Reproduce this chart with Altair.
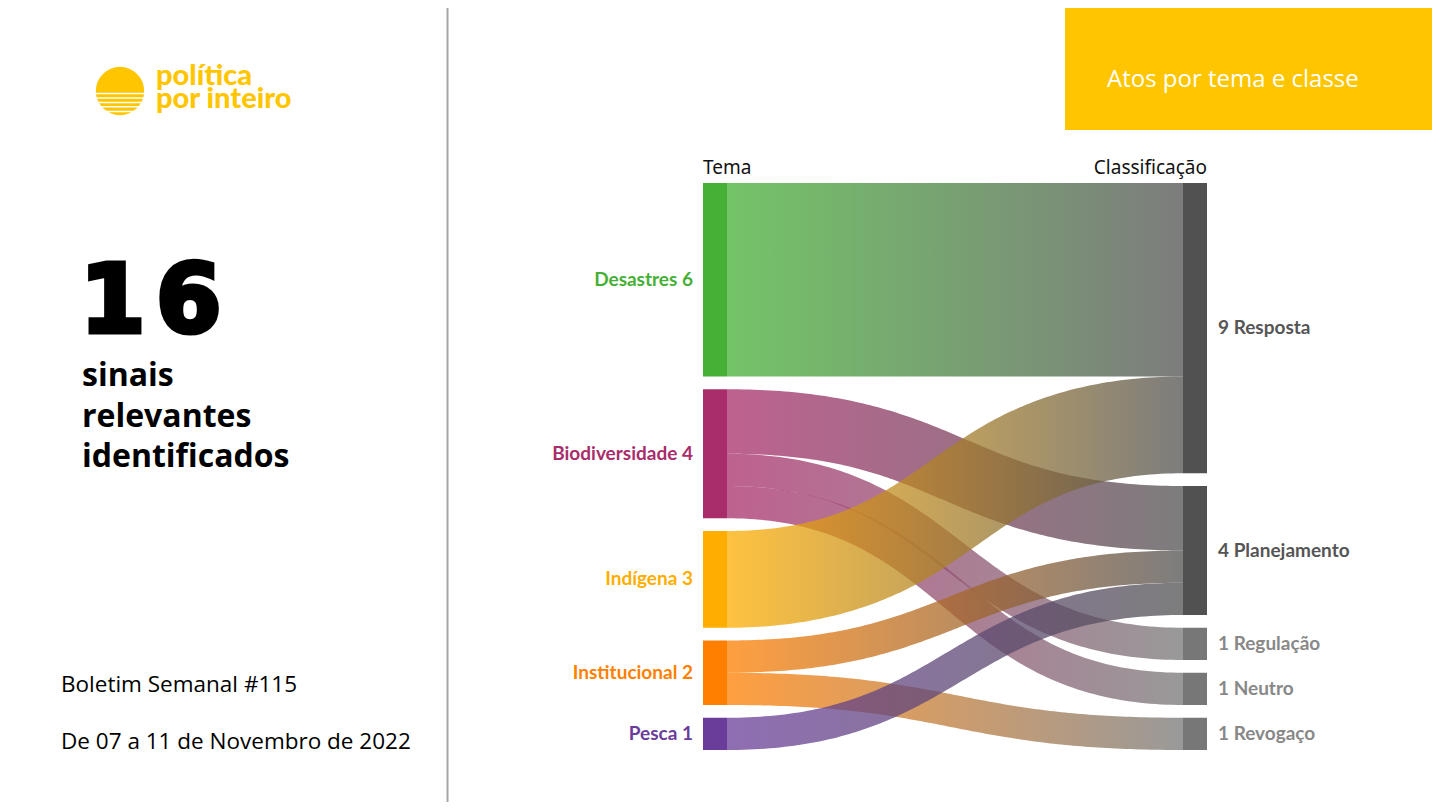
import altair as alt
import pandas as pd
import numpy as np

# ---------------- data ----------------
temas = ["Desastres", "Biodiversidade", "Indígena", "Institucional", "Pesca"]
tema_colors = ["#45b035", "#a82d6a", "#ffae00", "#ff7f00", "#6a3d9a"]
classes = ["Resposta", "Planejamento", "Regulação", "Neutro", "Revogaço"]
class_colors = ["#515151", "#515151", "#777777", "#777777", "#777777"]
class_label_colors = ["#555555", "#555555", "#888888", "#888888", "#888888"]

link_source = ["Desastres", "Biodiversidade", "Biodiversidade", "Biodiversidade",
               "Indígena", "Institucional", "Institucional", "Pesca"]
link_target = ["Resposta", "Planejamento", "Regulação", "Neutro",
               "Resposta", "Planejamento", "Revogaço", "Planejamento"]
link_value = [6, 2, 1, 1, 3, 1, 1, 1]

total_digits = ["1", "6"]

# ---------------- layout (sankey) ----------------
TOP, BOTTOM, GAP = 183.0, 750.0, 12.75
LX0, LX1 = 703.0, 727.0
RX0, RX1 = 1183.0, 1207.0
total = sum(link_value)
unit = (BOTTOM - TOP - GAP * (len(temas) - 1)) / total

def node_values(names, key):
    return [sum(v for s, v in zip(key, link_value) if s == n) for n in names]

tema_vals = node_values(temas, link_source)
class_vals = node_values(classes, link_target)

def stack(vals):
    out, y = [], TOP
    for v in vals:
        out.append((y, y + v * unit))
        y += v * unit + GAP
    return out

tema_pos = dict(zip(temas, stack(tema_vals)))
class_pos = dict(zip(classes, stack(class_vals)))

nodes = []
for n, v, c in zip(temas, tema_vals, tema_colors):
    y0, y1 = tema_pos[n]
    nodes.append(dict(name=n, x0=LX0, x1=LX1, y0=y0, y1=y1, color=c))
for n, v, c in zip(classes, class_vals, class_colors):
    y0, y1 = class_pos[n]
    nodes.append(dict(name=n, x0=RX0, x1=RX1, y0=y0, y1=y1, color=c))
nodes_df = pd.DataFrame(nodes)

idx = list(range(len(link_value)))
src_off = {}
for s in temas:
    y = tema_pos[s][0]
    for i in sorted([i for i in idx if link_source[i] == s], key=lambda i: classes.index(link_target[i])):
        src_off[i] = y
        y += link_value[i] * unit
tgt_off = {}
for tname in classes:
    y = class_pos[tname][0]
    for i in sorted([i for i in idx if link_target[i] == tname], key=lambda i: temas.index(link_source[i])):
        tgt_off[i] = y
        y += link_value[i] * unit

# page-pixel coordinate scales (chart sits inside the 8px page margin)
xs = alt.Scale(domain=[8, 1432], range=[0, 1424], nice=False, zero=False)
ys = alt.Scale(domain=[8, 802], range=[0, 794], nice=False, zero=False)

def X(f):
    return alt.X(f, type="quantitative", scale=xs, axis=None)

def Y(f):
    return alt.Y(f, type="quantitative", scale=ys, axis=None)

layers = []

# background decorations
vline = pd.DataFrame({"x": [447.5], "y": [0], "y2": [810]})
layers.append(alt.Chart(vline).mark_rule(color="#a6a6a6", strokeWidth=2).encode(
    x=X("x"), y=Y("y"), y2=alt.Y2("y2")))

box = pd.DataFrame({"x": [1065], "x2": [1440], "y": [0], "y2": [130]})
layers.append(alt.Chart(box).mark_rect(color="#ffc600").encode(
    x=X("x"), x2=alt.X2("x2"), y=Y("y"), y2=alt.Y2("y2")))

# links (ribbons following d3-sankey horizontal link curve)
tt = np.linspace(0, 1, 120)
for i in idx:
    w = link_value[i] * unit
    sy = src_off[i] + w / 2
    ty = tgt_off[i] + w / 2
    xm = (LX1 + RX0) / 2
    bx = (1 - tt) ** 3 * LX1 + 3 * (1 - tt) ** 2 * tt * xm + 3 * (1 - tt) * tt ** 2 * xm + tt ** 3 * RX0
    by = (1 - tt) ** 3 * sy + 3 * (1 - tt) ** 2 * tt * sy + 3 * (1 - tt) * tt ** 2 * ty + tt ** 3 * ty
    dx = 3 * (1 - tt) ** 2 * (xm - LX1) + 3 * tt ** 2 * (RX0 - xm)
    dy = 6 * (1 - tt) * tt * (ty - sy)
    half = (w / 2) * np.sqrt(dx ** 2 + dy ** 2) / dx
    df = pd.DataFrame({"x": bx, "y": by - half, "y2": by + half})
    c0 = tema_colors[temas.index(link_source[i])]
    c1 = class_colors[classes.index(link_target[i])]
    grad = alt.Gradient(gradient="linear",
                        stops=[alt.GradientStop(color=c0, offset=0), alt.GradientStop(color=c1, offset=1)],
                        x1=0, x2=1, y1=0, y2=0)
    layers.append(alt.Chart(df).mark_area(color=grad, opacity=0.75, orient="vertical").encode(
        x=X("x"), y=Y("y"), y2=alt.Y2("y2")))

# nodes
layers.append(alt.Chart(nodes_df).mark_rect().encode(
    x=X("x0"), x2=alt.X2("x1"), y=Y("y0"), y2=alt.Y2("y1"),
    color=alt.Color("color:N", scale=None)))

# node labels
lab = []
for n, v, c in zip(temas, tema_vals, tema_colors):
    y0, y1 = tema_pos[n]
    lab.append(dict(text=f"{n} {v}", x=LX0 - 10, y=(y0 + y1) / 2, color=c))
left_lab = pd.DataFrame(lab)
layers.append(alt.Chart(left_lab).mark_text(align="right", baseline="middle", font="Lato",
                                            fontSize=19, fontWeight="bold").encode(
    x=X("x"), y=Y("y"), text="text:N", color=alt.Color("color:N", scale=None)))
lab = []
for n, v, c in zip(classes, class_vals, class_label_colors):
    y0, y1 = class_pos[n]
    lab.append(dict(text=f"{v} {n}", x=RX1 + 11, y=(y0 + y1) / 2, color=c))
right_lab = pd.DataFrame(lab)
layers.append(alt.Chart(right_lab).mark_text(align="left", baseline="middle", font="Lato",
                                             fontSize=19, fontWeight="bold").encode(
    x=X("x"), y=Y("y"), text="text:N", color=alt.Color("color:N", scale=None)))

# column headers
hdr_l = pd.DataFrame({"text": ["Tema"], "x": [LX0], "y": [174]})
hdr_r = pd.DataFrame({"text": ["Classificação"], "x": [RX1], "y": [174]})
layers.append(alt.Chart(hdr_l).mark_text(align="left", baseline="alphabetic",
    font="Noto Sans", fontSize=19, color="#111111").encode(x=X("x"), y=Y("y"), text="text:N"))
layers.append(alt.Chart(hdr_r).mark_text(align="right", baseline="alphabetic",
    font="Noto Sans", fontSize=19, color="#111111").encode(x=X("x"), y=Y("y"), text="text:N"))

# title in yellow box
ttl = pd.DataFrame({"text": ["Atos por tema e classe"], "x": [1107], "y": [87]})
layers.append(alt.Chart(ttl).mark_text(align="left", baseline="alphabetic", font="Open Sans",
                                       fontSize=24, color="white").encode(
    x=X("x"), y=Y("y"), text="text:N"))

# logo
sun = pd.DataFrame({"x": [120], "y": [91]})
layers.append(alt.Chart(sun).mark_point(filled=True, shape="circle", size=float(np.pi * 27.3 ** 2),
                                        color="#ffc600", opacity=1, strokeWidth=0).encode(
    x=X("x"), y=Y("y")))
stripes = pd.DataFrame({"x": [90] * 5, "x2": [150] * 5, "y": [93.5, 98, 102.4, 106.8, 111.6]})
layers.append(alt.Chart(stripes).mark_rule(color="white", strokeWidth=1.5).encode(
    x=X("x"), x2=alt.X2("x2"), y=Y("y")))
logo_txt = pd.DataFrame({"text": ["política", "por inteiro"], "x": [156, 156], "y": [85, 108]})
layers.append(alt.Chart(logo_txt).mark_text(align="left", baseline="alphabetic", font="Lato",
                                            fontSize=29, fontWeight=900, color="#ffc600").encode(
    x=X("x"), y=Y("y"), text="text:N"))

# left panel text
big = pd.DataFrame({"text": total_digits, "x": [80, 156], "y": [332, 332]})
layers.append(alt.Chart(big).mark_text(align="left", baseline="alphabetic", font="DejaVu Sans",
                                       fontSize=94, fontWeight="bold", color="black",
                                       stroke="black", strokeWidth=5, strokeJoin="miter").encode(
    x=X("x"), y=Y("y"), text="text:N"))
sub = pd.DataFrame({"text": ["sinais", "relevantes", "identificados"], "x": [82] * 3,
                    "y": [386, 427, 467]})
layers.append(alt.Chart(sub).mark_text(align="left", baseline="alphabetic", font="Open Sans",
                                       fontSize=32, fontWeight="bold", color="black").encode(
    x=X("x"), y=Y("y"), text="text:N"))
foot = pd.DataFrame({"text": ["Boletim Semanal #115", "De 07 a 11 de Novembro de 2022"],
                     "x": [61, 61], "y": [692, 749]})
layers.append(alt.Chart(foot).mark_text(align="left", baseline="alphabetic", font="Open Sans",
                                        fontSize=22.5, color="black").encode(
    x=X("x"), y=Y("y"), text="text:N"))

chart = alt.layer(*layers).properties(
    width=1424, height=794, padding=0, autosize=alt.AutoSizeParams(type="none"),
    background="white"
).configure_view(stroke=None)

chart.save("out.html", embed_options={"renderer": "svg", "actions": False})
